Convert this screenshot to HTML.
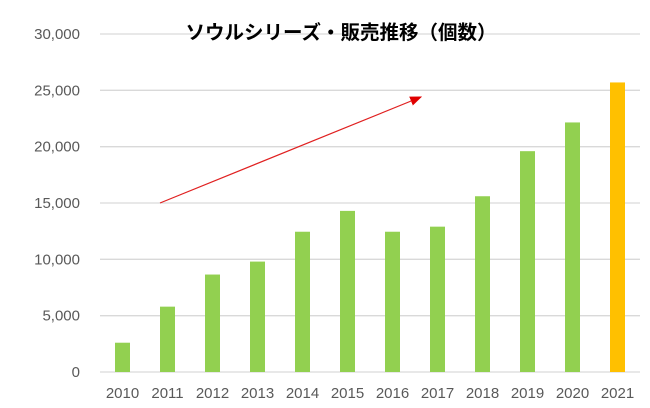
<!DOCTYPE html>
<html><head><meta charset="utf-8"><style>
body{margin:0;background:#fff;width:650px;height:408px;overflow:hidden}
svg{display:block}
text{font-family:"Liberation Sans","Noto Sans CJK JP",sans-serif}
</style></head><body>
<svg id="chart" width="650" height="408" xmlns="http://www.w3.org/2000/svg">
<g id="grid"></g>
<g id="yaxis"></g>
<g id="bars"></g>
<g id="xaxis"></g>
<text x="341" y="39" text-anchor="middle" font-size="19.5" font-weight="bold" fill="#000">ソウルシリーズ・販売推移（個数）</text>
<defs><marker id="ah" markerWidth="10" markerHeight="8" refX="9" refY="4" orient="auto"><path d="M0,0 L10,4 L0,8 z" fill="#e00000"/></marker></defs>
<line x1="160" y1="203" x2="421" y2="97" stroke="#e02020" stroke-width="1.2" marker-end="url(#ah)"/>
</svg>
<script>
const categories=["2010","2011","2012","2013","2014","2015","2016","2017","2018","2019","2020","2021"];
const values=[2600,5800,8650,9800,12450,14300,12450,12900,15600,19600,22150,25700];
const yTicks=[0,5000,10000,15000,20000,25000,30000];
const yTickLabels=["0","5,000","10,000","15,000","20,000","25,000","30,000"];
const NS="http://www.w3.org/2000/svg";
const x0=100,x1=640,yB=372,yT=34,yMax=30000;
const bw=(x1-x0)/categories.length;
function y(v){return yB-(v/yMax)*(yB-yT);}
function xc(i){return x0+bw*(i+0.5);}
function mk(t,a,p){const e=document.createElementNS(NS,t);for(const k in a)e.setAttribute(k,a[k]);p.appendChild(e);return e;}
const g=document.getElementById('grid'),ya=document.getElementById('yaxis'),b=document.getElementById('bars'),xa=document.getElementById('xaxis');
yTicks.forEach((v,i)=>{
 const l=mk('line',{x1:x0,x2:x1,y1:y(v),y2:y(v),stroke:'#d9d9d9','stroke-width':1.3},g);
 
 
 const t=mk('text',{x:80,y:y(v)+5,'text-anchor':'end','font-size':15,fill:'#595959'},ya);
 t.textContent=yTickLabels[i];
 
 
});
categories.forEach((c,i)=>{
 const r=mk('rect',{x:xc(i)-7.5,y:y(values[i]),width:15,height:yB-y(values[i]),fill:i===categories.length-1?'#ffc000':'#92d050'},b);
 
 
 const t=mk('text',{x:xc(i),y:398,'text-anchor':'middle','font-size':15,fill:'#595959'},xa);
 t.textContent=c;
 
 
});
</script>
</body></html>
